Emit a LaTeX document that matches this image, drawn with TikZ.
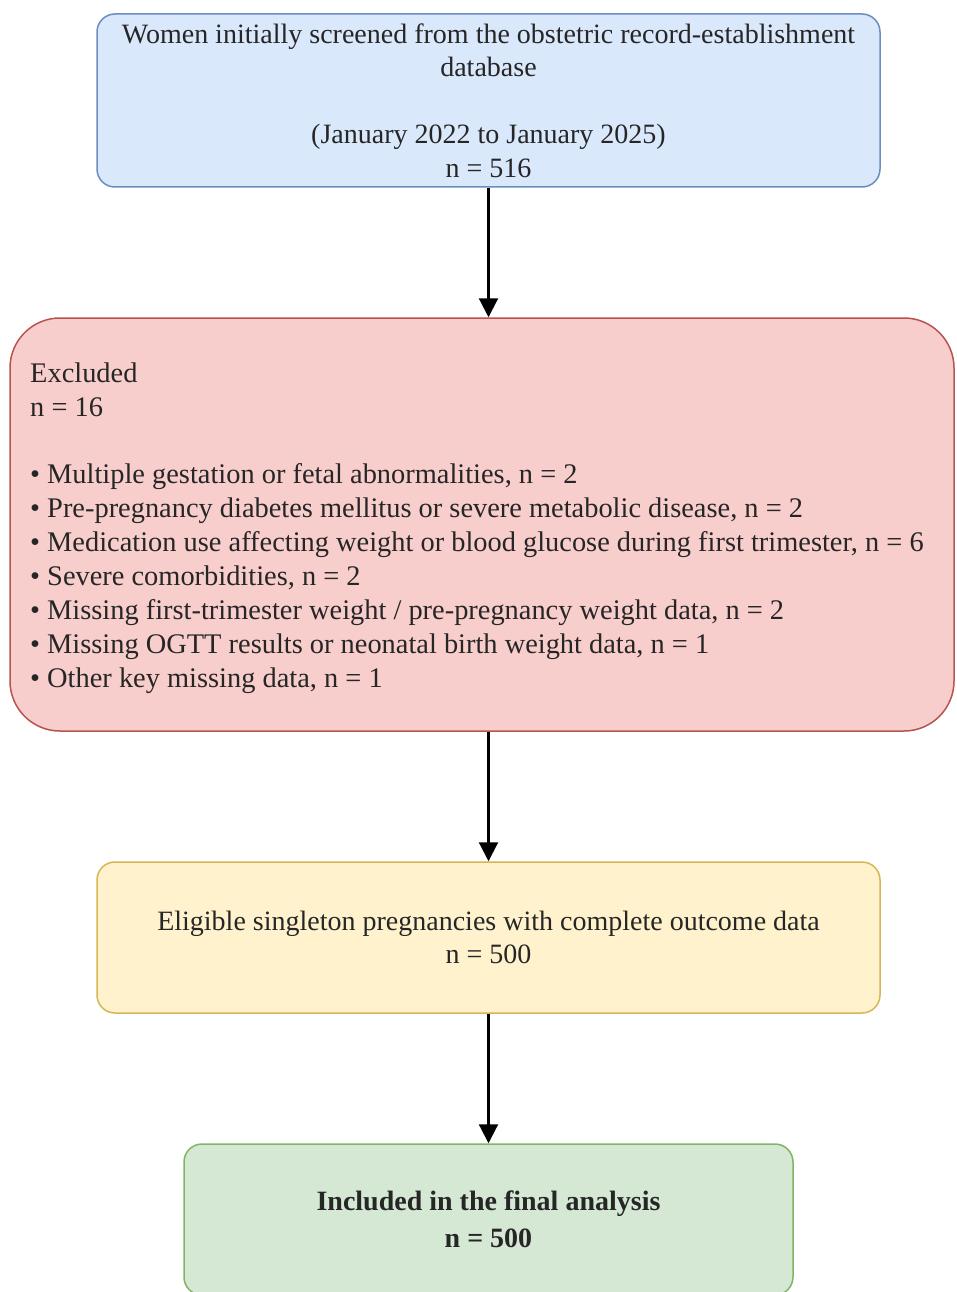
\documentclass[tikz,border=0pt]{standalone}
\usepackage{fontspec}
\setmainfont{Liberation Serif}
\usetikzlibrary{arrows.meta}
\definecolor{bluefill}{HTML}{DAE8FC}
\definecolor{bluedraw}{HTML}{6C8EBF}
\definecolor{redfill}{HTML}{F8CECC}
\definecolor{reddraw}{HTML}{B85450}
\definecolor{yelfill}{HTML}{FFF2CC}
\definecolor{yeldraw}{HTML}{D6B656}
\definecolor{grnfill}{HTML}{D5E8D4}
\definecolor{grndraw}{HTML}{82B366}
\tikzset{
  flowbox/.style={draw, line width=1.5pt, rounded corners=18pt, align=center,
    inner sep=0pt, font=\fontsize{28}{33.5}\selectfont, text=black!85},
  arr/.style={line width=2.2pt, -{Triangle[length=19pt,width=19pt]}},
}
\begin{document}
\begin{tikzpicture}[x=1pt,y=-1pt]
\useasboundingbox (0,0) rectangle (956,1292);
\clip (0,0) rectangle (956,1292);
\fill[white] (0,0) rectangle (956,1292);

\node[flowbox, fill=bluefill, draw=bluedraw, minimum width=783pt, minimum height=173pt]
  (screen) at (488.5,100.5)
  {Women initially screened from the obstetric record-establishment\\
   database\\[33.5pt]
   (January 2022 to January 2025)\\
   n = 516};

\node[flowbox, fill=redfill, draw=reddraw, rounded corners=50pt,
  minimum width=944pt, minimum height=413pt] (excl) at (482,524.5) {};
\node[anchor=west, align=left, inner sep=0pt, text=black!85,
  font=\fontsize{28.4}{34}\selectfont] (excltext) at (30,528)
  {Excluded\\
   n = 16\\[33pt]
   • Multiple gestation or fetal abnormalities, n = 2\\
   • Pre-pregnancy diabetes mellitus or severe metabolic disease, n = 2\\
   • Medication use affecting weight or blood glucose during first trimester, n = 6\\
   • Severe comorbidities, n = 2\\
   • Missing first-trimester weight / pre-pregnancy weight data, n = 2\\
   • Missing OGTT results or neonatal birth weight data, n = 1\\
   • Other key missing data, n = 1};

\node[flowbox, fill=yelfill, draw=yeldraw, minimum width=783pt, minimum height=151pt]
  (elig) at (488.5,937.5)
  {Eligible singleton pregnancies with complete outcome data\\
   n = 500};

\node[flowbox, fill=grnfill, draw=grndraw, minimum width=609pt, minimum height=151pt,
  font=\fontsize{28}{37}\selectfont\bfseries]
  (final) at (488.5,1219.5)
  {Included in the final analysis\\
   n = 500};

\draw[arr] (screen.south) -- (screen.south |- excl.north);
\draw[arr] (excl.south -| screen.south) -- (elig.north);
\draw[arr] (elig.south) -- (final.north);
\end{tikzpicture}
\end{document}
